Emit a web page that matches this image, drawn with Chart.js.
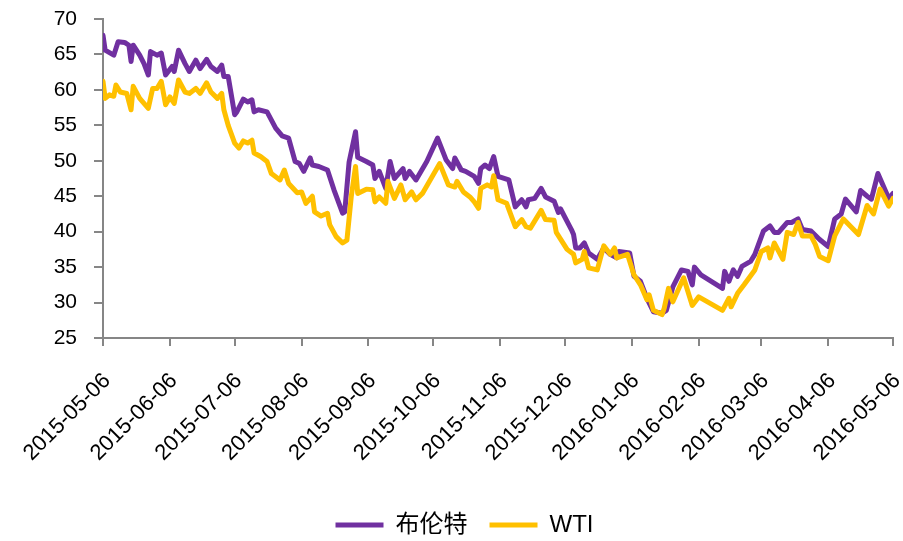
<!DOCTYPE html>
<html>
<head>
<meta charset="utf-8">
<script src="https://cdn.jsdelivr.net/npm/chart.js@4.4.0/dist/chart.umd.min.js"></script>
<style>
  html, body { margin: 0; padding: 0; background: #fff; }
</style>
</head>
<body>
<canvas id="chart" width="903" height="541"></canvas>
<script>
// 月度刻度
const tickDates = [
  "2015-05-06", "2015-06-06", "2015-07-06", "2015-08-06", "2015-09-06", "2015-10-06",
  "2015-11-06", "2015-12-06", "2016-01-06", "2016-02-06", "2016-03-06", "2016-04-06", "2016-05-06"
];

const brentDates = [
  "2015-05-06", "2015-05-07", "2015-05-11", "2015-05-13", "2015-05-16", "2015-05-18", "2015-05-19",
  "2015-05-20", "2015-05-23", "2015-05-25", "2015-05-27", "2015-05-28", "2015-05-31", "2015-06-02",
  "2015-06-04", "2015-06-07", "2015-06-08", "2015-06-10", "2015-06-13", "2015-06-15", "2015-06-18",
  "2015-06-20", "2015-06-23", "2015-06-25", "2015-06-28", "2015-06-30", "2015-07-01", "2015-07-03",
  "2015-07-06", "2015-07-07", "2015-07-10", "2015-07-12", "2015-07-14", "2015-07-15", "2015-07-17",
  "2015-07-21", "2015-07-25", "2015-07-28", "2015-07-31", "2015-08-03", "2015-08-05", "2015-08-07",
  "2015-08-10", "2015-08-11", "2015-08-14", "2015-08-18", "2015-08-21", "2015-08-25", "2015-08-26",
  "2015-08-28", "2015-08-31", "2015-09-01", "2015-09-05", "2015-09-08", "2015-09-09", "2015-09-11",
  "2015-09-14", "2015-09-16", "2015-09-18", "2015-09-22", "2015-09-23", "2015-09-25", "2015-09-28",
  "2015-10-03", "2015-10-08", "2015-10-12", "2015-10-15", "2015-10-16", "2015-10-19", "2015-10-21",
  "2015-10-25", "2015-10-27", "2015-10-28", "2015-10-30", "2015-11-01", "2015-11-03", "2015-11-05",
  "2015-11-10", "2015-11-13", "2015-11-16", "2015-11-18", "2015-11-19", "2015-11-22", "2015-11-25",
  "2015-11-27", "2015-12-01", "2015-12-03", "2015-12-04", "2015-12-09", "2015-12-10", "2015-12-11",
  "2015-12-13", "2015-12-15", "2015-12-17", "2015-12-21", "2015-12-24", "2015-12-27", "2015-12-30",
  "2015-12-31", "2016-01-05", "2016-01-07", "2016-01-10", "2016-01-13", "2016-01-16", "2016-01-20",
  "2016-01-22", "2016-01-25", "2016-01-29", "2016-02-01", "2016-02-03", "2016-02-04", "2016-02-07",
  "2016-02-17", "2016-02-18", "2016-02-20", "2016-02-22", "2016-02-24", "2016-02-26", "2016-03-01",
  "2016-03-03", "2016-03-07", "2016-03-10", "2016-03-12", "2016-03-14", "2016-03-18", "2016-03-20",
  "2016-03-23", "2016-03-25", "2016-03-29", "2016-04-02", "2016-04-06", "2016-04-09", "2016-04-12",
  "2016-04-14", "2016-04-19", "2016-04-21", "2016-04-24", "2016-04-26", "2016-04-29", "2016-05-04",
  "2016-05-06"
];
const brentValues = [
  67.7, 65.6, 64.9, 66.8, 66.7, 66.3, 64.0,
  66.3, 64.9, 63.7, 62.1, 65.4, 64.9, 65.2,
  62.1, 63.3, 62.6, 65.6, 63.7, 62.6, 64.2,
  63.0, 64.3, 63.3, 62.6, 63.5, 61.9, 61.9,
  56.5, 56.9, 58.7, 58.3, 58.6, 56.9, 57.2,
  56.9, 54.6, 53.5, 53.2, 49.9, 49.6, 48.5,
  50.4, 49.4, 49.2, 48.7, 45.9, 42.6, 42.8,
  49.8, 54.1, 50.5, 49.9, 49.4, 47.5, 48.5,
  46.1, 49.9, 47.5, 48.9, 47.5, 48.5, 47.3,
  49.9, 53.2, 50.1, 48.9, 50.4, 48.7, 48.5,
  47.8, 46.8, 48.9, 49.4, 48.9, 50.6, 47.8,
  47.3, 43.5, 44.5, 43.5, 44.5, 44.7, 46.1,
  44.9, 44.3, 42.7, 43.2, 40.3, 39.6, 37.7,
  37.7, 38.4, 37.0, 36.1, 37.7, 36.8, 36.3,
  37.2, 37.0, 33.7, 33.0, 30.6, 28.7, 28.5,
  28.9, 32.2, 34.6, 34.4, 32.5, 35.0, 33.9,
  32.0, 34.4, 33.0, 34.6, 33.7, 35.1, 35.8,
  36.8, 40.1, 40.8, 39.9, 39.9, 41.3, 41.3,
  41.8, 40.3, 40.1, 38.9, 37.9, 41.8, 42.5,
  44.6, 42.8, 45.8, 45.0, 44.6, 48.2, 44.7,
  45.4
];

const wtiDates = [
  "2015-05-06", "2015-05-07", "2015-05-09", "2015-05-11", "2015-05-12", "2015-05-14", "2015-05-17",
  "2015-05-19", "2015-05-20", "2015-05-23", "2015-05-27", "2015-05-29", "2015-05-31", "2015-06-02",
  "2015-06-04", "2015-06-06", "2015-06-08", "2015-06-10", "2015-06-13", "2015-06-15", "2015-06-18",
  "2015-06-20", "2015-06-23", "2015-06-25", "2015-06-28", "2015-06-30", "2015-07-01", "2015-07-03",
  "2015-07-06", "2015-07-08", "2015-07-10", "2015-07-12", "2015-07-14", "2015-07-15", "2015-07-18",
  "2015-07-21", "2015-07-23", "2015-07-27", "2015-07-29", "2015-07-31", "2015-08-04", "2015-08-06",
  "2015-08-08", "2015-08-11", "2015-08-12", "2015-08-15", "2015-08-18", "2015-08-19", "2015-08-22",
  "2015-08-25", "2015-08-27", "2015-08-29", "2015-08-31", "2015-09-01", "2015-09-05", "2015-09-08",
  "2015-09-09", "2015-09-11", "2015-09-14", "2015-09-15", "2015-09-18", "2015-09-21", "2015-09-23",
  "2015-09-26", "2015-09-28", "2015-10-01", "2015-10-09", "2015-10-13", "2015-10-16", "2015-10-17",
  "2015-10-20", "2015-10-23", "2015-10-25", "2015-10-27", "2015-10-28", "2015-10-31", "2015-11-02",
  "2015-11-03", "2015-11-05", "2015-11-09", "2015-11-13", "2015-11-16", "2015-11-18", "2015-11-20",
  "2015-11-25", "2015-11-27", "2015-12-01", "2015-12-02", "2015-12-07", "2015-12-10", "2015-12-11",
  "2015-12-14", "2015-12-15", "2015-12-17", "2015-12-21", "2015-12-24", "2015-12-27", "2015-12-29",
  "2015-12-30", "2016-01-04", "2016-01-07", "2016-01-10", "2016-01-13", "2016-01-14", "2016-01-16",
  "2016-01-20", "2016-01-21", "2016-01-23", "2016-01-25", "2016-01-30", "2016-02-03", "2016-02-06",
  "2016-02-17", "2016-02-20", "2016-02-21", "2016-02-24", "2016-02-27", "2016-03-03", "2016-03-06",
  "2016-03-09", "2016-03-10", "2016-03-12", "2016-03-16", "2016-03-18", "2016-03-21", "2016-03-23",
  "2016-03-25", "2016-03-29", "2016-03-31", "2016-04-02", "2016-04-06", "2016-04-09", "2016-04-13",
  "2016-04-20", "2016-04-24", "2016-04-27", "2016-04-30", "2016-05-04", "2016-05-06"
];
const wtiValues = [
  61.2, 58.8, 59.3, 59.1, 60.7, 59.7, 59.5,
  57.2, 60.5, 58.8, 57.4, 60.2, 60.2, 61.2,
  57.9, 59.0, 58.1, 61.4, 59.7, 59.5, 60.2,
  59.5, 61.0, 59.7, 58.8, 59.5, 57.2, 55.0,
  52.5, 51.8, 52.8, 52.5, 52.9, 51.1, 50.6,
  49.9, 48.2, 47.3, 48.7, 46.8, 45.5, 45.6,
  44.0, 45.0, 42.8, 42.2, 42.6, 41.0, 39.3,
  38.4, 38.8, 44.9, 49.2, 45.4, 46.0, 45.9,
  44.2, 44.9, 44.0, 47.1, 44.7, 46.6, 44.5,
  45.6, 44.5, 45.4, 49.6, 46.6, 46.3, 47.1,
  45.6, 44.9, 44.2, 43.3, 46.1, 46.6, 46.3,
  47.9, 44.5, 44.0, 40.7, 41.7, 40.7, 40.5,
  43.0, 41.7, 41.6, 39.9, 37.5, 36.8, 35.6,
  36.1, 37.2, 34.9, 34.6, 38.0, 36.8, 37.7,
  36.3, 36.8, 33.9, 32.5, 30.4, 31.1, 28.9,
  28.3, 29.2, 32.0, 30.1, 33.5, 29.6, 30.8,
  28.9, 30.6, 29.4, 31.3, 32.5, 34.6, 37.2,
  37.7, 36.3, 38.4, 36.1, 39.9, 39.6, 41.3,
  39.4, 39.4, 38.2, 36.5, 35.9, 39.4, 41.8,
  39.6, 43.7, 42.5, 46.0, 43.6, 44.7
];

const FONT = "'Liberation Sans', Arial, 'Noto Sans CJK SC', sans-serif";
const AXIS_GREY = "#868686";
const START = Date.UTC(2015, 4, 6);

function dayOf(s) {
  const [y, m, d] = s.split("-").map(Number);
  return (Date.UTC(y, m - 1, d) - START) / 86400000;
}

function toPoints(dates, values) {
  return dates.map((d, i) => ({ x: dayOf(d), y: values[i] }));
}

// legend sits a bit right of and below where chart.js centres it
const legendNudge = {
  id: "legendNudge",
  afterLayout(chart) {
    const l = chart.legend;
    l.left += 18;
    l.right += 18;
    l.top += 6;
    l.bottom += 6;
  },
};

const ctx = document.getElementById("chart").getContext("2d");

new Chart(ctx, {
  type: "line",
  data: {
    datasets: [
      {
        label: "布伦特",
        data: toPoints(brentDates, brentValues),
        borderColor: "#7030A0",
        backgroundColor: "#7030A0",
        borderWidth: 5,
        pointRadius: 0,
        tension: 0,
        borderJoinStyle: "round",
        borderCapStyle: "round",
        order: 1,
      },
      {
        label: "WTI",
        data: toPoints(wtiDates, wtiValues),
        borderColor: "#FFC000",
        backgroundColor: "#FFC000",
        borderWidth: 5,
        pointRadius: 0,
        tension: 0,
        borderJoinStyle: "round",
        borderCapStyle: "round",
        order: 0,
      },
    ],
  },
  options: {
    responsive: false,
    animation: false,
    layout: { padding: { top: 19, right: 10, left: 0, bottom: 0 } },
    plugins: {
      tooltip: { enabled: false },
      legend: {
        position: "bottom",
        labels: {
          usePointStyle: true,
          pointStyle: "line",
          pointStyleWidth: 48,
          color: "#000",
          padding: 22,
          font: { family: FONT, size: 24 },
          sort: (a, b) => a.datasetIndex - b.datasetIndex,
        },
      },
    },
    scales: {
      x: {
        type: "linear",
        min: 0,
        max: dayOf(tickDates[tickDates.length - 1]),
        afterBuildTicks: (scale) => {
          scale.ticks = tickDates.map((d) => ({ value: dayOf(d) }));
        },
        afterFit: (scale) => {
          scale.height = 147;
          scale.paddingLeft = 0;
          scale.paddingRight = 0;
        },
        border: { color: AXIS_GREY, width: 2 },
        grid: {
          drawOnChartArea: false,
          drawTicks: true,
          tickLength: 8,
          color: AXIS_GREY,
          lineWidth: 2,
        },
        ticks: {
          autoSkip: false,
          minRotation: 45,
          maxRotation: 45,
          padding: 22,
          labelOffset: 4,
          color: "#000",
          font: { family: FONT, size: 22 },
          callback: (value, index) => tickDates[index],
        },
      },
      y: {
        min: 25,
        max: 70,
        afterFit: (scale) => {
          scale.width = 103;
          scale.paddingTop = 0;
          scale.paddingBottom = 0;
        },
        border: { color: AXIS_GREY, width: 2 },
        grid: {
          drawOnChartArea: false,
          drawTicks: true,
          tickLength: 9,
          color: AXIS_GREY,
          lineWidth: 2,
        },
        ticks: {
          stepSize: 5,
          padding: 17,
          color: "#000",
          font: { family: FONT, size: 21 },
        },
      },
    },
  },
  plugins: [legendNudge],
});
</script>
</body>
</html>
